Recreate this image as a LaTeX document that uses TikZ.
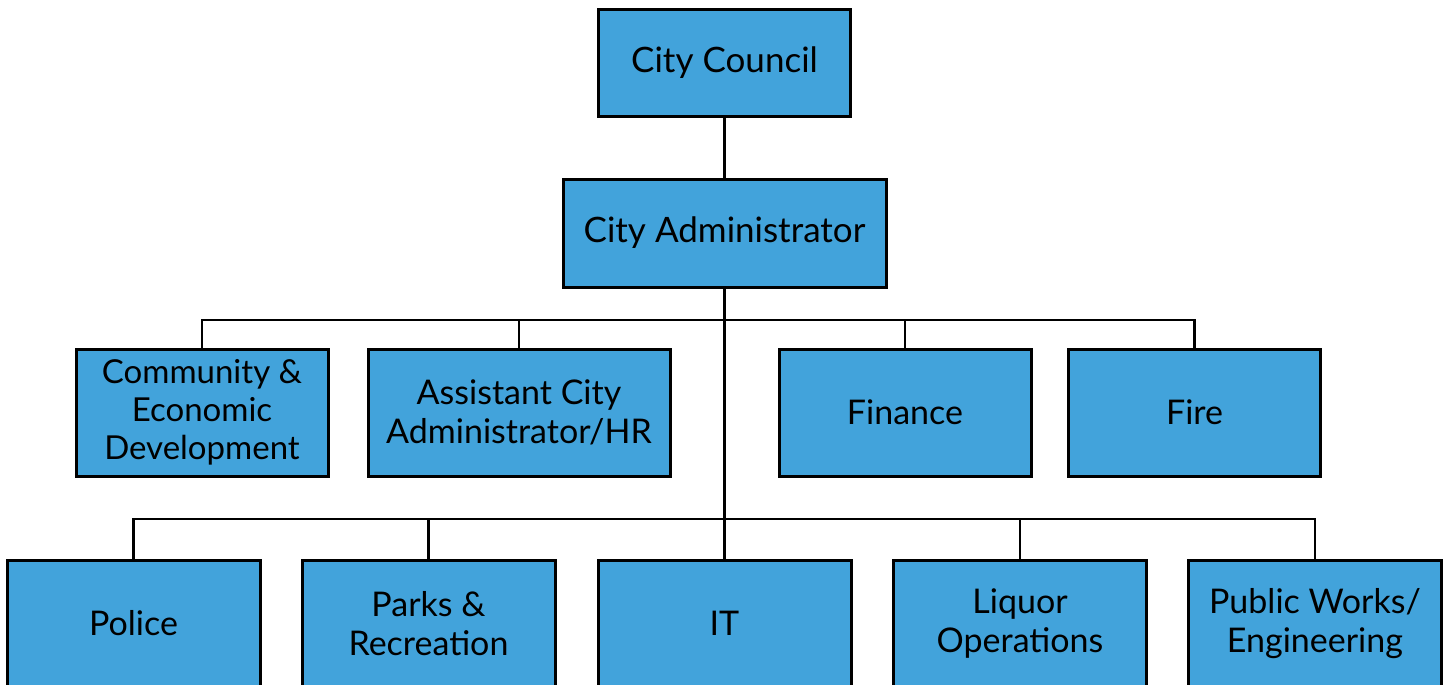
\documentclass[tikz,border=0pt]{standalone}
\usepackage{fontspec}
\setmainfont{Lato}
\definecolor{boxblue}{HTML}{42A3DB}
\begin{document}
\begin{tikzpicture}[x=1pt,y=-1pt,
    unit/.style={draw=black,line width=3pt,fill=boxblue,align=center,
      minimum width=252pt,minimum height=127pt,inner sep=0pt,
      font=\fontsize{34}{39}\selectfont},
    link/.style={line width=2.5pt}]
  \useasboundingbox (0,0) rectangle (1448,685);
  \node[unit,minimum height=106pt,font=\fontsize{35}{40}\selectfont] (council) at (724.5,63) {City Council};
  \node[unit,minimum width=323pt,minimum height=108pt,font=\fontsize{35}{40}\selectfont] (admin) at (724.5,233) {City Administrator};
  % second row
  \node[unit,font=\fontsize{33}{38}\selectfont] (ced) at (202,412.5) {Community \&\\Economic\\Development};
  \node[unit,minimum width=302pt] (asst) at (519,412.5) {Assistant City\\Administrator/HR};
  \node[unit] (finance) at (905,412.5) {Finance};
  \node[unit] (fire) at (1194.5,412.5) {Fire};
  % third row
  \node[unit,minimum width=253pt] (police) at (133.5,623.5) {Police};
  \node[unit,minimum width=253pt] (parks) at (428.5,623.5) {Parks \&\\Recreation};
  \node[unit,minimum width=253pt] (it) at (724.5,623.5) {IT};
  \node[unit,minimum width=253pt] (liquor) at (1020,623.5) {Liquor\\Operations};
  \node[unit,minimum width=253pt] (works) at (1315,623.5) {Public Works/\\Engineering};
  \coordinate (bus1) at (724.5,320);
  \coordinate (bus2) at (724.5,519);
  \begin{scope}[link]
    \draw (council) -- (admin);
    \draw (admin) -- (it);
    \foreach \n in {ced,asst,finance,fire}
      \draw (bus1) -| (\n);
    \foreach \n in {police,parks,liquor,works}
      \draw (bus2) -| (\n);
  \end{scope}
\end{tikzpicture}
\end{document}
